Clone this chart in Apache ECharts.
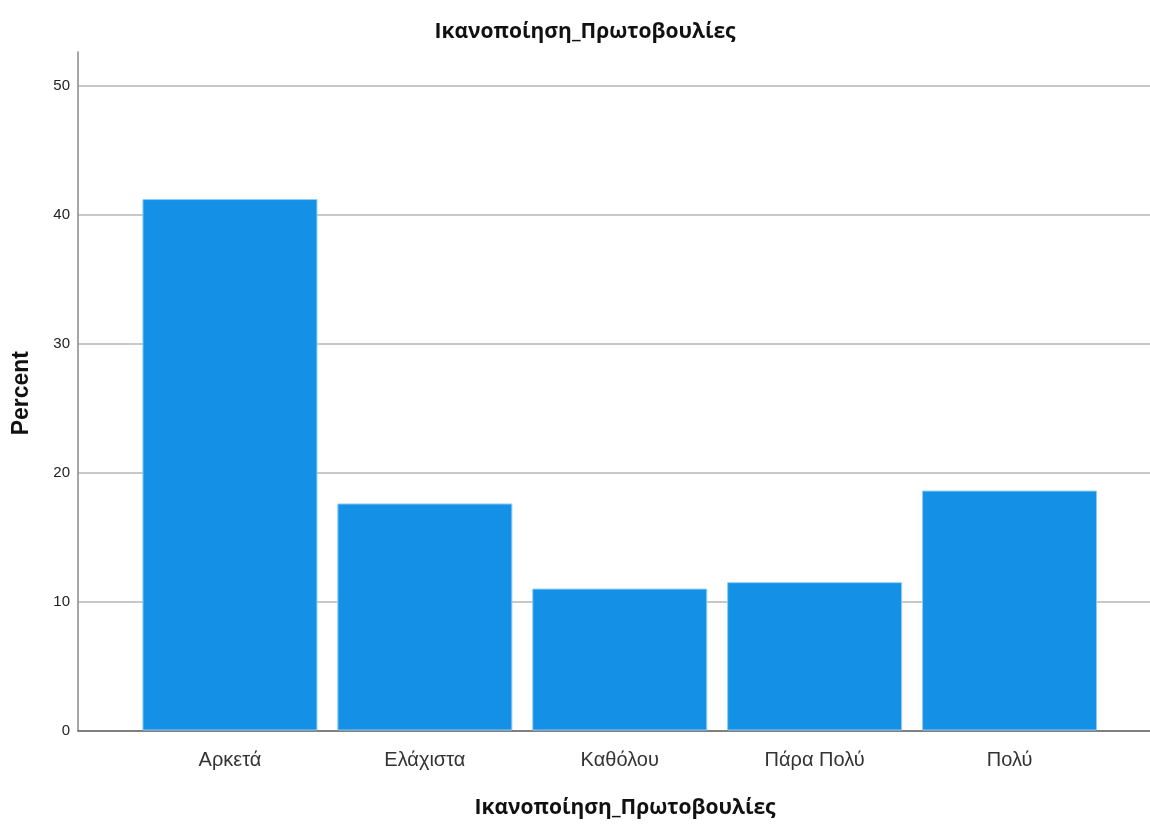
<!DOCTYPE html>
<html><head><meta charset="utf-8">
<script src="https://cdn.jsdelivr.net/npm/echarts@6/dist/echarts.min.js"></script>
<style>html,body{margin:0;padding:0;background:#fff}#c{width:1150px;height:828px}</style>
</head><body><div id="c"></div>
<script>
const categories = ['Αρκετά', 'Ελάχιστα', 'Καθόλου', 'Πάρα Πολύ', 'Πολύ'];
const percentValues = [41.2, 17.6, 11.0, 11.5, 18.6];
const chartTitle = 'Ικανοποίηση_Πρωτοβουλίες';
const xAxisTitle = 'Ικανοποίηση_Πρωτοβουλίες';
const yAxisTitle = 'Percent';
const yMax = 52.6;

const chart = echarts.init(document.getElementById('c'));
chart.setOption({
  animation: false,
  backgroundColor: '#fff',
  title: [
    {text: chartTitle, left: 580, top: 17, textAlign: 'center',
     textStyle: {fontFamily: 'Open Sans', fontWeight: 'bold', fontSize: 21, color: '#111'}},
    {text: xAxisTitle, left: 620, top: 793, textAlign: 'center',
     textStyle: {fontFamily: 'Open Sans', fontWeight: 'bold', fontSize: 21, color: '#111'}}
  ],
  graphic: [{
    type: 'text', left: 10, top: 351, rotation: Math.PI / 2,
    style: {text: yAxisTitle, font: 'bold 23px "Liberation Sans"', fill: '#111'}
  }],
  grid: [
    {left: 78, right: 0, top: 52, bottom: 97.5},
    {left: 132.5, right: 43, top: 52, bottom: 97.5}
  ],
  xAxis: [
    {gridIndex: 0, type: 'value', min: 0, max: 1, axisLabel: {show: false}, axisTick: {show: false},
     splitLine: {show: false}, axisLine: {show: true, lineStyle: {color: '#555', width: 1.5}}},
    {gridIndex: 1, type: 'category', data: categories, axisLine: {show: false}, axisTick: {show: false},
     axisLabel: {margin: 20, fontFamily: 'Liberation Sans', fontSize: 20, color: '#333'}}
  ],
  yAxis: [
    {gridIndex: 0, type: 'value', min: 0, max: yMax, interval: 10,
     axisLine: {show: true, lineStyle: {color: '#888', width: 1.5}}, axisTick: {show: false},
     axisLabel: {margin: 8, fontFamily: 'Liberation Sans', fontSize: 15, color: '#222',
       showMaxLabel: false},
     splitLine: {show: true, showMaxLine: false, showMinLine: false, lineStyle: {color: '#c8c8c8', width: 2}}},
    {gridIndex: 1, type: 'value', min: 0, max: yMax, show: false, splitLine: {show: false}}
  ],
  series: [{
    type: 'bar', xAxisIndex: 1, yAxisIndex: 1, data: percentValues, barWidth: 175, z: 5,
    itemStyle: {color: '#1490e6', borderColor: '#8ccdf6', borderWidth: 1}
  }]
});
</script></body></html>
